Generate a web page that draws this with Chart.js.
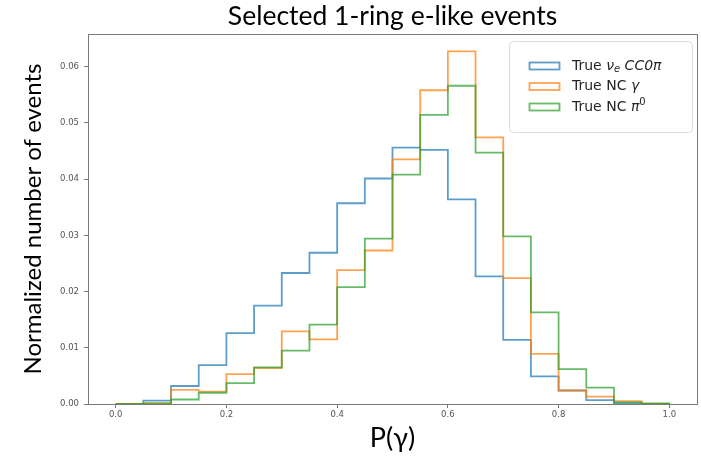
<!DOCTYPE html>
<html>
<head>
<meta charset="utf-8">
<script src="https://cdn.jsdelivr.net/npm/chart.js@4.4.1/dist/chart.umd.min.js"></script>
<style>
  html, body { margin: 0; padding: 0; background: #fff; }
  #wrap { width: 701px; height: 456px; }
</style>
</head>
<body>
<div id="wrap"><canvas id="chart" width="701" height="456"></canvas></div>
<script>
// ── Data ──────────────────────────────────────────────────
const binEdges = [0.00, 0.05, 0.10, 0.15, 0.20, 0.25, 0.30, 0.35, 0.40, 0.45,
                  0.50, 0.55, 0.60, 0.65, 0.70, 0.75, 0.80, 0.85, 0.90, 0.95, 1.00];
const nueVals = [0.0000, 0.0006, 0.0032, 0.0069, 0.0126, 0.0175, 0.0233, 0.0269, 0.0357, 0.0401,
                 0.0456, 0.0452, 0.0364, 0.0227, 0.0114, 0.0049, 0.0024, 0.0007, 0.0001, 0.0000];
const ncGammaVals = [0.0000, 0.0001, 0.0025, 0.0022, 0.0053, 0.0064, 0.0129, 0.0115, 0.0238, 0.0273,
                     0.0435, 0.0558, 0.0627, 0.0474, 0.0224, 0.0089, 0.0024, 0.0013, 0.0005, 0.0000];
const ncPi0Vals = [0.0000, 0.0001, 0.0008, 0.0020, 0.0037, 0.0065, 0.0095, 0.0141, 0.0208, 0.0294,
                   0.0408, 0.0514, 0.0566, 0.0447, 0.0298, 0.0163, 0.0062, 0.0029, 0.0003, 0.0001];
const xTicks = [0.0, 0.2, 0.4, 0.6, 0.8, 1.0];
const yTicks = [0.00, 0.01, 0.02, 0.03, 0.04, 0.05, 0.06];

const BLUE = "rgba(31,119,180,0.72)";
const ORANGE = "rgba(255,127,14,0.72)";
const GREEN = "rgba(44,160,44,0.72)";

// step-outline points for a histogram (matplotlib histtype="step")
function stepPoints(vals) {
  const pts = [{ x: binEdges[0], y: 0 }];
  vals.forEach((v, i) => pts.push({ x: binEdges[i], y: v }));
  pts.push({ x: binEdges[binEdges.length - 1], y: vals[vals.length - 1] });
  pts.push({ x: binEdges[binEdges.length - 1], y: 0 });
  return pts;
}

function histSet(vals, color, order) {
  return {
    data: stepPoints(vals),
    borderColor: color,
    backgroundColor: "transparent",
    borderWidth: 1.8,
    stepped: "before",   // horizontal first, then vertical at the next edge
    pointRadius: 0,
    fill: false,
    order,
  };
}

// ── Frame (all four spines) ───────────────────────────────
const framePlugin = {
  id: "frame",
  afterDatasetsDraw(chart) {
    const { ctx, chartArea: a } = chart;
    ctx.save();
    ctx.strokeStyle = "#7a7a7a";
    ctx.lineWidth = 1;
    ctx.strokeRect(Math.round(a.left) + 0.5, Math.round(a.top) + 0.5,
                   Math.round(a.right - a.left), Math.round(a.bottom - a.top));
    ctx.restore();
  },
};

// ── Legend with mixed upright / italic text ───────────────
const legendItems = [
  { color: BLUE, parts: [["True ", "n"], ["ν", "i"], ["e", "sub"], [" CC0π", "i"]] },
  { color: ORANGE, parts: [["True NC ", "n"], ["γ", "i"]] },
  { color: GREEN, parts: [["True NC ", "n"], ["π", "i"], ["0", "sup"]] },
];

const legendPlugin = {
  id: "mplLegend",
  afterDraw(chart) {
    const { ctx } = chart;
    const bx = 509, by = 41, bw = 183, bh = 91;
    ctx.save();
    ctx.beginPath();
    ctx.roundRect(bx + 0.5, by + 0.5, bw, bh, 4);
    ctx.fillStyle = "rgba(255,255,255,0.85)";
    ctx.fill();
    ctx.strokeStyle = "#dcdcdc";
    ctx.lineWidth = 1;
    ctx.stroke();

    legendItems.forEach((item, i) => {
      const cy = 66 + i * 20.5;
      ctx.strokeStyle = item.color;
      ctx.lineWidth = 1.8;
      ctx.strokeRect(529.5, cy - 3.5, 30, 7);

      let x = 572;
      ctx.fillStyle = "#262626";
      ctx.textBaseline = "middle";
      ctx.textAlign = "left";
      item.parts.forEach(([txt, kind]) => {
        let dy = 0;
        if (kind === "n") ctx.font = "14px 'DejaVu Sans'";
        else if (kind === "i") ctx.font = "oblique 14px 'DejaVu Sans'";
        else if (kind === "sub") { ctx.font = "oblique 10px 'DejaVu Sans'"; dy = 3; }
        else if (kind === "sup") { ctx.font = "10px 'DejaVu Sans'"; dy = -5; }
        ctx.fillText(txt, x, cy + dy);
        x += ctx.measureText(txt).width;
      });
    });
    ctx.restore();
  },
};

new Chart(document.getElementById("chart"), {
  type: "line",
  data: {
    datasets: [
      histSet(nueVals, BLUE, 3),
      histSet(ncGammaVals, ORANGE, 2),
      histSet(ncPi0Vals, GREEN, 1),
    ],
  },
  options: {
    responsive: false,
    animation: false,
    layout: { padding: { left: 0, right: 4, top: 0, bottom: 0 } },
    plugins: {
      legend: { display: false },
      tooltip: { enabled: false },
      title: {
        display: true,
        text: "Selected 1-ring e-like events",
        fullSize: false,
        color: "#000",
        font: { family: "Lato", size: 26.5, weight: "normal", lineHeight: 1.2 },
        padding: { top: 0.5, bottom: 1.7 },
      },
    },
    scales: {
      x: {
        type: "linear",
        min: -0.05,
        max: 1.05,
        afterBuildTicks: (s) => { s.ticks = xTicks.map((v) => ({ value: v })); },
        afterFit: (s) => { s.height = 52; },
        ticks: {
          callback: (v) => v.toFixed(1),
          color: "#555",
          font: { family: "DejaVu Sans", size: 8.5 },
          padding: 2,
          maxRotation: 0,
          autoSkip: false,
        },
        grid: { display: true, drawOnChartArea: false, drawTicks: true, tickLength: 4, color: "#7a7a7a" },
        border: { display: true, color: "#7a7a7a" },
        title: {
          display: true,
          text: "P(γ)",
          color: "#000",
          font: { family: "Lato", size: 27, lineHeight: 1.2 },
          padding: { top: 0, bottom: 2 },
        },
      },
      y: {
        type: "linear",
        min: 0,
        max: 0.0658,
        afterBuildTicks: (s) => { s.ticks = yTicks.map((v) => ({ value: v })); },
        afterFit: (s) => { s.width = 88; },
        ticks: {
          callback: (v) => v.toFixed(2),
          color: "#555",
          font: { family: "DejaVu Sans", size: 8.5 },
          padding: 5,
          autoSkip: false,
        },
        grid: { display: true, drawOnChartArea: false, drawTicks: true, tickLength: 4, color: "#7a7a7a" },
        border: { display: true, color: "#7a7a7a" },
        title: {
          display: true,
          text: "Normalized number of events",
          color: "#000",
          font: { family: "Lato", size: 24, lineHeight: 1.2 },
          padding: { top: 19, bottom: 0 },
        },
      },
    },
  },
  plugins: [framePlugin, legendPlugin],
});
</script>
</body>
</html>
